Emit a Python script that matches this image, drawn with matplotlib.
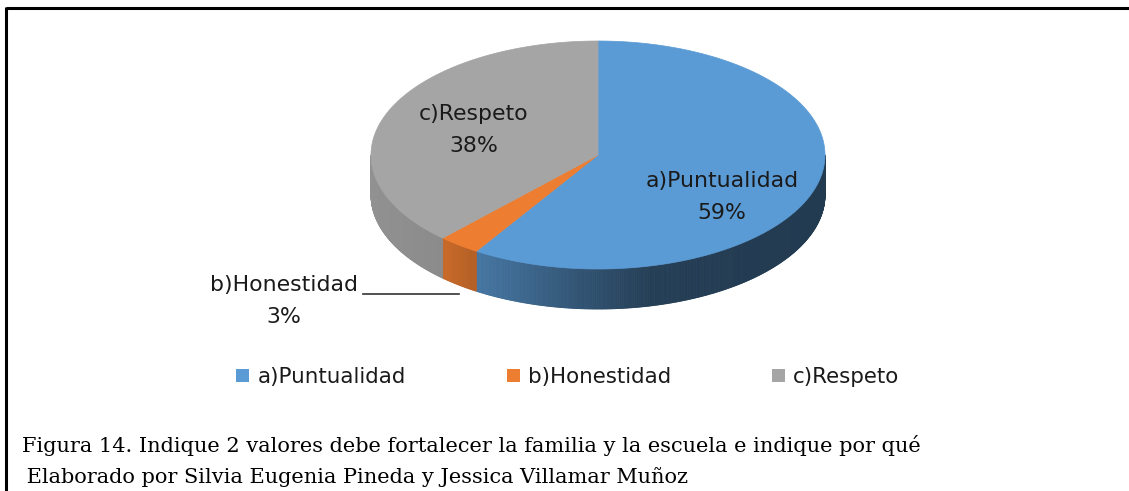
import numpy as np
import matplotlib.pyplot as plt
from matplotlib.patches import Polygon, Patch
from matplotlib.collections import PolyCollection
from matplotlib.colors import to_rgb

# data
categories = ['a)Puntualidad', 'b)Honestidad', 'c)Respeto']
percents = [59, 3, 38]
colors = ['#5B9BD5', '#ED7D31', '#A5A5A5']
caption1 = 'Figura 14. Indique 2 valores debe fortalecer la familia y la escuela e indique por qué'
caption2 = ' Elaborado por Silvia Eugenia Pineda y Jessica Villamar Muñoz'

W, H = 1129, 491
fig = plt.figure(figsize=(W / 100, H / 100), dpi=100)
ax = fig.add_axes([0, 0, 1, 1])
ax.set_xlim(0, W)
ax.set_ylim(H, 0)
ax.axis('off')

# pie geometry (pixel space)
cx, cy, rx, ry, depth = 598, 155, 227, 114, 40


def ell(theta):
    t = np.radians(theta)
    return cx + rx * np.cos(t), cy - ry * np.sin(t)


def shade(theta):
    # darker towards the right, like the excel 3d shading
    u = (np.cos(np.radians(theta)) + 1) / 2
    return np.interp(u, [0, 0.17, 0.22, 0.26, 0.45, 0.62, 1.0],
                     [0.88, 0.84, 0.77, 0.74, 0.55, 0.40, 0.38])


fracs = np.array(percents) / sum(percents)
starts = 90 - 360 * np.concatenate([[0], np.cumsum(fracs)[:-1]])
ends = starts - 360 * fracs

# side walls (front half only)
for s, e, c in zip(starts, ends, colors):
    lo, hi = max(e, -180), min(s, 0)
    if lo >= hi:
        continue
    angs = np.linspace(lo, hi, int((hi - lo) * 3) + 2)
    polys, fcs = [], []
    base = np.array(to_rgb(c))
    for a0, a1 in zip(angs[:-1], angs[1:]):
        x0, y0 = ell(a0)
        x1, y1 = ell(a1)
        polys.append([(x0, y0), (x1, y1), (x1, y1 + depth), (x0, y0 + depth)])
        fcs.append(np.clip(base * shade((a0 + a1) / 2), 0, 1))
    ax.add_collection(PolyCollection(polys, facecolors=fcs, edgecolors=fcs, linewidths=0.6))

# top faces
for s, e, c in zip(starts, ends, colors):
    angs = np.linspace(s, e, 200)
    xs, ys = ell(angs)
    pts = np.column_stack([np.r_[cx, xs], np.r_[cy, ys]])
    ax.add_patch(Polygon(pts, closed=True, facecolor=c, edgecolor=c, linewidth=0.5))

lab_font = 'DejaVu Sans'
fs = 15.8
col = '#1a1a1a'
# data labels: (x, y of name line)
label_pos = {0: (722, 181), 1: (284, 285), 2: (474, 114)}
for i, (lx, ly) in label_pos.items():
    ax.text(lx, ly, categories[i], ha='center', va='center', fontsize=fs, family=lab_font, color=col)
    ax.text(lx, ly + 32, f'{percents[i]}%', ha='center', va='center', fontsize=fs, family=lab_font, color=col)
mx, my = ell((starts[1] + ends[1]) / 2)
ax.plot([363, mx], [294, 294], color='#333333', lw=1.2)

# legend
handles = [Patch(facecolor=c, edgecolor='none') for c in colors]
fig.legend(handles, categories, loc='center', bbox_to_anchor=(568 / W, 1 - 377 / H),
           ncol=3, frameon=False, handlelength=0.6, handleheight=0.6, handletextpad=0.4,
           columnspacing=4.7, labelcolor=col, prop={'family': lab_font, 'size': 15.4})

# caption
cap_font = 'DejaVu Serif'
ax.text(22, 452, caption1, ha='left', va='baseline', fontsize=15.0, family=cap_font)
ax.text(20, 483, caption2, ha='left', va='baseline', fontsize=15.0, family=cap_font)

# frame
ax.plot([6, W], [8, 8], color='black', lw=2.2, solid_capstyle='butt')
ax.plot([6, 6], [7, H], color='black', lw=2.2, solid_capstyle='butt')

fig.savefig('out.png', dpi=100)
